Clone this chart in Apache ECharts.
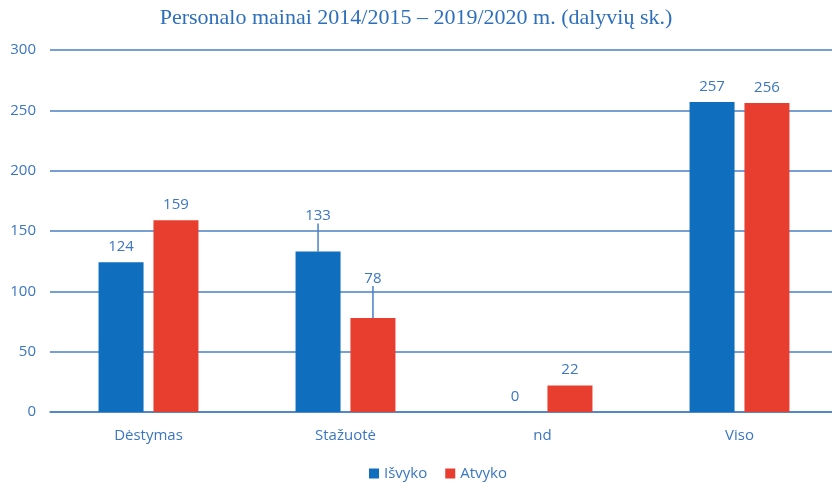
<!DOCTYPE html>
<html>
<head>
<meta charset="utf-8">
<title>Personalo mainai</title>
<script src="https://cdn.jsdelivr.net/npm/echarts@6/dist/echarts.min.js"></script>
<style>
  html, body { margin: 0; padding: 0; background: #fff; }
  #main { width: 832px; height: 483px; }
</style>
</head>
<body>
<div id="main"></div>
<script>
  var categories = ['Dėstymas', 'Stažuotė', 'nd', 'Viso'];
  var isvyko = [124, 133, 0, 257];
  var atvyko = [159, 78, 22, 256];
  // labels lifted with a leader line (index -> dy)
  var isvykoLift = { 1: -20 };
  var atvykoLift = { 1: -24 };

  var blue = '#0f6fbe';
  var red = '#e83e30';
  var textBlue = '#3b76c1';
  var font = '"Open Sans", "Liberation Sans", sans-serif';

  function items(values, lift) {
    return values.map(function (v, i) {
      return lift[i] ? { value: v, labelLine: { show: true } } : v;
    });
  }

  function layoutFor(lift) {
    return function (p) {
      return lift[p.dataIndex] ? { dy: lift[p.dataIndex] } : {};
    };
  }

  var chart = echarts.init(document.getElementById('main'));

  var option = {
    title: {
      text: 'Personalo mainai 2014/2015 – 2019/2020 m. (dalyvių sk.)',
      left: 'center',
      top: 2,
      textStyle: {
        color: '#2d6fbb',
        fontFamily: '"Liberation Serif", "DejaVu Serif", serif',
        fontSize: 22,
        fontWeight: 'normal'
      }
    },
    legend: {
      left: 364,
      top: 461,
      itemWidth: 10,
      itemHeight: 10,
      itemGap: 18,
      icon: 'rect',
      textStyle: { color: textBlue, fontFamily: font, fontSize: 15 },
      data: ['Išvyko', 'Atvyko']
    },
    grid: { left: 50, width: 788, top: 50, height: 362, outerBoundsMode: 'none', containLabel: false },
    xAxis: {
      type: 'category',
      data: categories,
      axisLine: { lineStyle: { color: '#4a7fc6', width: 1.5 } },
      axisTick: { show: false },
      axisLabel: { color: textBlue, fontFamily: font, fontSize: 15, margin: 16 }
    },
    yAxis: {
      type: 'value',
      min: 0,
      max: 300,
      interval: 50,
      axisLine: { show: false },
      axisTick: { show: false },
      axisLabel: { color: textBlue, fontFamily: font, fontSize: 15, margin: 14 },
      splitLine: { lineStyle: { color: '#4a7fc6', width: 1.5 } }
    },
    series: [
      {
        name: 'Išvyko',
        type: 'bar',
        data: items(isvyko, isvykoLift),
        barWidth: 45,
        barGap: '22%',
        itemStyle: { color: blue },
        label: { show: true, position: 'top', distance: 8, color: textBlue, fontFamily: font, fontSize: 15 },
        labelLayout: layoutFor(isvykoLift),
        labelLine: { lineStyle: { color: '#4a7fc6', width: 1.5 } }
      },
      {
        name: 'Atvyko',
        type: 'bar',
        data: items(atvyko, atvykoLift),
        barWidth: 45,
        itemStyle: { color: red },
        label: { show: true, position: 'top', distance: 8, color: textBlue, fontFamily: font, fontSize: 15 },
        labelLayout: layoutFor(atvykoLift),
        labelLine: { lineStyle: { color: '#4a7fc6', width: 1.5 } }
      }
    ]
  };

  chart.setOption(option);
</script>
</body>
</html>
